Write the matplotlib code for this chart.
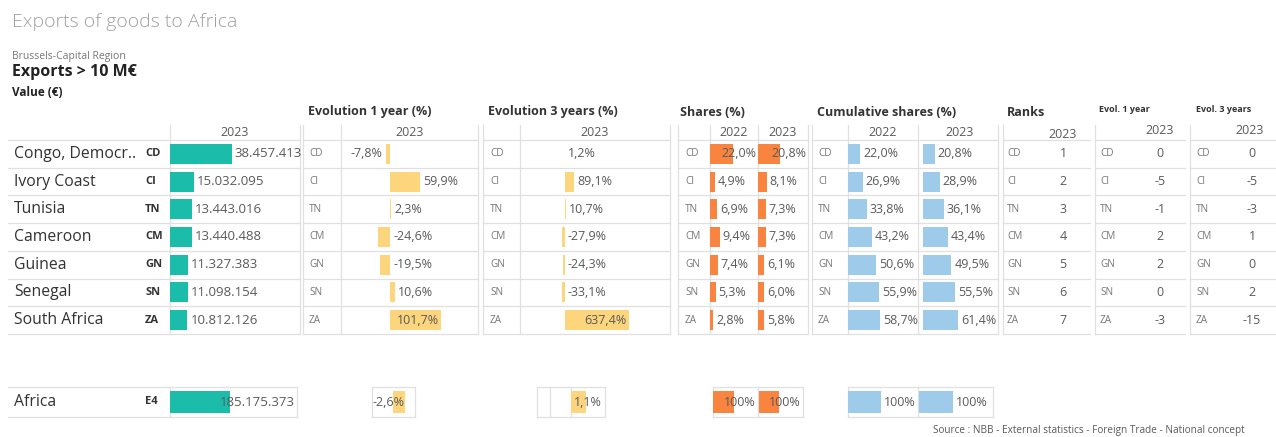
import matplotlib
matplotlib.use("Agg")
import matplotlib.pyplot as plt

plt.rcParams['font.family'] = ['Open Sans', 'DejaVu Sans']

# table data
countries = ["Congo, Democr..", "Ivory Coast", "Tunisia", "Cameroon", "Guinea", "Senegal", "South Africa"]
codes = ["CD", "CI", "TN", "CM", "GN", "SN", "ZA"]
value_2023 = [38457413, 15032095, 13443016, 13440488, 11327383, 11098154, 10812126]
evol_1y = [-7.8, 59.9, 2.3, -24.6, -19.5, 10.6, 101.7]
evol_3y = [1.2, 89.1, 10.7, -27.9, -24.3, -33.1, 637.4]
share_2022 = [22.0, 4.9, 6.9, 9.4, 7.4, 5.3, 2.8]
share_2023 = [20.8, 8.1, 7.3, 7.3, 6.1, 6.0, 5.8]
cum_2022 = [22.0, 26.9, 33.8, 43.2, 50.6, 55.9, 58.7]
cum_2023 = [20.8, 28.9, 36.1, 43.4, 49.5, 55.5, 61.4]
rank_2023 = [1, 2, 3, 4, 5, 6, 7]
rank_evol_1y = [0, -5, -1, 2, 2, 0, -3]
rank_evol_3y = [0, -5, -3, 1, 0, 2, -15]

# totals row
africa_name = "Africa"
africa_code = "E4"
africa_value = [185175373]
africa_evol_1y = [-2.6]
africa_evol_3y = [1.1]
africa_share_2022 = [100]
africa_share_2023 = [100]
africa_cum_2022 = [100]
africa_cum_2023 = [100]

TEAL = "#1cbcaa"
YELLOW = "#fcd57c"
ORANGE = "#f8843f"
BLUE = "#9fcbea"
GRID = "#e0e0e0"
DARK = "#333333"
MID = "#5a5a5a"
LIGHT = "#777777"

W, H = 1276, 437
fig = plt.figure(figsize=(W / 100, H / 100), dpi=100)
bg = fig.add_axes([0, 0, 1, 1])
bg.set_xlim(0, W)
bg.set_ylim(H, 0)
bg.axis('off')

n = len(codes)
ROW_TOP, ROW_H = 140, 27.7
ROW_BOT = ROW_TOP + n * ROW_H
AF_TOP, AF_BOT = 387, 417
rows_y = [ROW_TOP + (i + 0.5) * ROW_H for i in range(n)]
af_y = (AF_TOP + AF_BOT) / 2


def fmt_int(v):
    return f"{v:,}".replace(",", ".")


def fmt_pct(v):
    return f"{v:.1f}%".replace(".", ",")


def panel(x0, x1, y0, y1, xlim, nrows):
    ax = fig.add_axes([x0 / W, 1 - y1 / H, (x1 - x0) / W, (y1 - y0) / H])
    ax.set_xlim(*xlim)
    ax.set_ylim(nrows - 0.5, -0.5)
    ax.axis('off')
    return ax


labels = []


def bars(ax, values, color, texts, size=9, overflow="bar"):
    ax.barh(range(len(values)), values, height=0.72, color=color)
    for i, (v, t) in enumerate(zip(values, texts)):
        if -10 < v < 0:
            a = ax.annotate(t, (v, i), xytext=(-4, 0), textcoords='offset pixels',
                            ha='right', va='center', fontsize=size, color=MID)
        else:
            a = ax.annotate(t, (max(v, 0), i), xytext=(3, 0), textcoords='offset pixels',
                            ha='left', va='center', fontsize=size, color=MID)
            if overflow:
                labels.append((a, ax, v, i, overflow))


def grid_block(x0, x1, y0, y1, nrows, vlines, vtop=125):
    for k in range(nrows + 1):
        y = y0 + k * (y1 - y0) / nrows
        bg.plot([x0, x1], [y, y], color=GRID, lw=0.9)
    for x in vlines:
        bg.plot([x, x], [vtop, y1], color=GRID, lw=0.9)


# titles
bg.text(12, 22, "Exports of goods to Africa", fontsize=14, color="#a0a0a0",
        fontweight='light', va='center')
bg.text(12, 56, "Brussels-Capital Region", fontsize=7.5, color=LIGHT, va='center')
bg.text(12, 72, "Exports > 10 M€", fontsize=11.5, color="#222222", fontweight='bold', va='center')
bg.text(12, 92, "Value (€)", fontsize=8.5, color="#222222", fontweight='bold', va='center')

for x, t in [(308, "Evolution 1 year (%)"), (488, "Evolution 3 years (%)"),
             (680, "Shares (%)"), (817, "Cumulative shares (%)"), (1007, "Ranks")]:
    bg.text(x, 112, t, fontsize=9, color=DARK, fontweight='bold', va='center')
bg.text(1099, 110, "Evol. 1 year", fontsize=6.5, color=DARK, fontweight='bold', va='center')
bg.text(1196, 110, "Evol. 3 years", fontsize=6.5, color=DARK, fontweight='bold', va='center')

for x, y, t in [(235, 133, "2023"), (410, 133, "2023"), (595, 133, "2023"),
                (734, 133, "2022"), (783, 133, "2023"), (883, 133, "2022"), (960, 133, "2023"),
                (1063, 134, "2023"), (1160, 131, "2023"), (1250, 131, "2023")]:
    bg.text(x, y, t, fontsize=9, color=MID, ha='center', va='center')

# grid lines
grid_block(8, 300, ROW_TOP, ROW_BOT, n, [170, 300])
grid_block(303, 478, ROW_TOP, ROW_BOT, n, [303, 341, 478])
grid_block(483, 670, ROW_TOP, ROW_BOT, n, [483, 520, 670])
grid_block(678, 808, ROW_TOP, ROW_BOT, n, [678, 710, 758, 808])
grid_block(812, 998, ROW_TOP, ROW_BOT, n, [812, 848, 918, 998])
grid_block(1003, 1090, ROW_TOP, ROW_BOT, n, [1003])
grid_block(1095, 1185, ROW_TOP, ROW_BOT, n, [1095])
grid_block(1190, 1276, ROW_TOP, ROW_BOT, n, [1190])

grid_block(8, 297, AF_TOP, AF_BOT, 1, [170, 297], vtop=AF_TOP)
grid_block(372, 415, AF_TOP, AF_BOT, 1, [372, 415], vtop=AF_TOP)
grid_block(537, 605, AF_TOP, AF_BOT, 1, [537, 550, 571, 605], vtop=AF_TOP)
grid_block(713, 803, AF_TOP, AF_BOT, 1, [713, 758, 803], vtop=AF_TOP)
grid_block(848, 993, AF_TOP, AF_BOT, 1, [848, 918, 993], vtop=AF_TOP)

# row names and codes
for i, (name, c) in enumerate(zip(countries, codes)):
    y = rows_y[i]
    bg.text(14, y, name, fontsize=11.3, color=DARK, va='center')
    bg.text(145, y, c, fontsize=8, color=DARK, fontweight='bold', va='center')
    for x in [309, 490, 685, 818, 1007, 1100, 1196]:
        bg.text(x, y, c, fontsize=7.2, color=LIGHT, va='center')
    bg.text(1063, y, str(rank_2023[i]), fontsize=9, color=MID, ha='center', va='center')
    bg.text(1160, y, str(rank_evol_1y[i]), fontsize=9, color=MID, ha='center', va='center')
    bg.text(1252, y, str(rank_evol_3y[i]), fontsize=9, color=MID, ha='center', va='center')

bg.text(14, af_y, africa_name, fontsize=11.3, color=DARK, va='center')
bg.text(145, af_y, africa_code, fontsize=8, color=DARK, fontweight='bold', va='center')

# main bar panels
ax = panel(170, 300, ROW_TOP, ROW_BOT, (0, 81e6), n)
bars(ax, value_2023, TEAL, [fmt_int(v) for v in value_2023], size=9.5, overflow="edge")
ax = panel(341, 478, ROW_TOP, ROW_BOT, (-98, 176), n)
bars(ax, evol_1y, YELLOW, [fmt_pct(v) for v in evol_1y])
ax = panel(520, 670, ROW_TOP, ROW_BOT, (-450, 1050), n)
bars(ax, evol_3y, YELLOW, [fmt_pct(v) for v in evol_3y])
ax = panel(710, 758, ROW_TOP, ROW_BOT, (0, 45.7), n)
bars(ax, share_2022, ORANGE, [fmt_pct(v) for v in share_2022], overflow="edge")
ax = panel(758, 808, ROW_TOP, ROW_BOT, (0, 47.6), n)
bars(ax, share_2023, ORANGE, [fmt_pct(v) for v in share_2023], overflow="edge")
ax = panel(848, 918, ROW_TOP, ROW_BOT, (0, 127), n)
bars(ax, cum_2022, BLUE, [fmt_pct(v) for v in cum_2022], overflow="edge")
ax = panel(923, 998, ROW_TOP, ROW_BOT, (0, 131), n)
bars(ax, cum_2023, BLUE, [fmt_pct(v) for v in cum_2023], overflow="edge")

# Africa total panels
ax = panel(170, 297, AF_TOP, AF_BOT, (0, 392e6), 1)
bars(ax, africa_value, TEAL, [fmt_int(v) for v in africa_value], size=9.5, overflow="edge")
ax = panel(372, 415, AF_TOP, AF_BOT, (-7.15, 2.17), 1)
ax.barh([0], africa_evol_1y, height=0.72, color=YELLOW)
ax.annotate(fmt_pct(africa_evol_1y[0]), (0, 0), ha='right', va='center', fontsize=9, color=MID)
ax = panel(537, 605, AF_TOP, AF_BOT, (-2.5, 2.5), 1)
ax.barh([0], africa_evol_3y, height=0.72, color=YELLOW)
ax.annotate(fmt_pct(africa_evol_3y[0]), (0, 0), xytext=(3, 0), textcoords='offset pixels',
            ha='left', va='center', fontsize=9, color=MID)
ax = panel(713, 758, AF_TOP, AF_BOT, (0, 214), 1)
bars(ax, africa_share_2022, ORANGE, [f"{v}%" for v in africa_share_2022], overflow="edge")
ax = panel(759, 803, AF_TOP, AF_BOT, (0, 220), 1)
bars(ax, africa_share_2023, ORANGE, [f"{v}%" for v in africa_share_2023], overflow="edge")
ax = panel(848, 918, AF_TOP, AF_BOT, (0, 212), 1)
bars(ax, africa_cum_2022, BLUE, [f"{v}%" for v in africa_cum_2022], overflow="edge")
ax = panel(919, 993, AF_TOP, AF_BOT, (0, 218), 1)
bars(ax, africa_cum_2023, BLUE, [f"{v}%" for v in africa_cum_2023], overflow="edge")

bg.text(933, 430, "Source : NBB - External statistics - Foreign Trade - National concept",
        fontsize=7.2, color=MID, va='center')

# move labels that would run out of their column back inside
fig.canvas.draw()
r = fig.canvas.get_renderer()
for a, ax, v, i, mode in labels:
    if a.get_window_extent(r).x1 > ax.get_window_extent(r).x1 + 3:
        a.set_ha('right')
        a.xyann = (-2, 0)
        a.xy = (ax.get_xlim()[1], i) if mode == "edge" else (v, i)

fig.savefig("out.png", dpi=100)
